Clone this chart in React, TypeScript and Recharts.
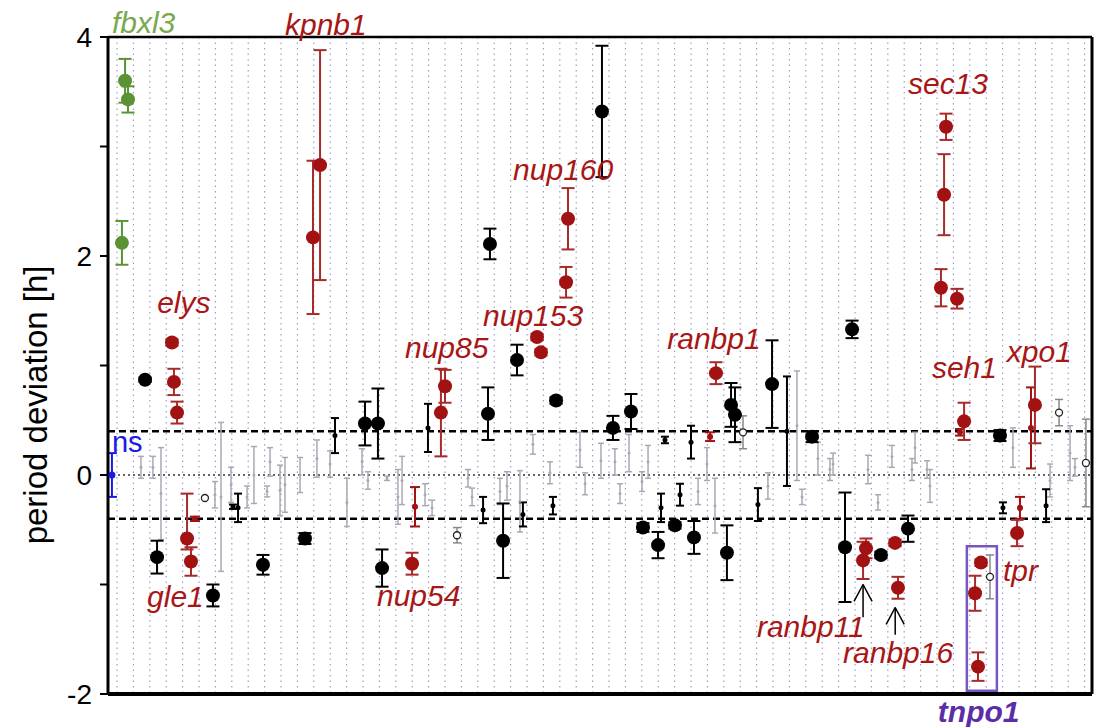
import React from 'react';
import {
  ScatterChart,
  Scatter,
  XAxis,
  YAxis,
  CartesianGrid,
  ErrorBar,
  ReferenceLine,
  ReferenceArea,
  ReferenceDot
} from 'recharts';

type Pt = { x: number; y: number; err: number | [number, number] };

// axis ticks
const yTicks = [-2, -1, 0, 1, 2, 3, 4];
const gridTicks = Array.from({ length: 60 }, (_, i) => i + 0.55);

// fbxl3 controls
const greenPts: Pt[] = [
  { x: 1.04, y: 3.6, err: 0.2 },
  { x: 1.22, y: 3.43, err: 0.12 },
  { x: 0.85, y: 2.12, err: 0.2 }
];

// significant hits (named genes)
const redBig: Pt[] = [
  { x: 3.9, y: 1.21, err: 0.03 },
  { x: 4.02, y: 0.85, err: 0.12 },
  { x: 4.21, y: 0.57, err: 0.1 },
  { x: 4.82, y: -0.58, err: [0.1, 0.41] },
  { x: 5.06, y: -0.79, err: 0.13 },
  { x: 12.5, y: 2.17, err: 0.7 },
  { x: 12.93, y: 2.83, err: 1.05 },
  { x: 18.54, y: -0.81, err: 0.1 },
  { x: 20.3, y: 0.57, err: 0.4 },
  { x: 20.55, y: 0.81, err: 0.15 },
  { x: 26.16, y: 1.26, err: 0.03 },
  { x: 26.4, y: 1.12, err: 0.03 },
  { x: 27.93, y: 1.76, err: 0.14 },
  { x: 28.05, y: 2.34, err: 0.28 },
  { x: 37.07, y: 0.93, err: 0.1 },
  { x: 46.04, y: -0.78, err: 0.17 },
  { x: 46.22, y: -0.67, err: 0.09 },
  { x: 47.99, y: -0.62, err: 0.03 },
  { x: 48.17, y: -1.03, err: 0.1 },
  { x: 50.79, y: 1.71, err: 0.17 },
  { x: 50.98, y: 2.56, err: 0.37 },
  { x: 51.1, y: 3.18, err: 0.12 },
  { x: 51.77, y: 1.61, err: 0.09 },
  { x: 52.2, y: 0.49, err: 0.17 },
  { x: 52.87, y: -1.08, err: 0.16 },
  { x: 53.05, y: -1.75, err: 0.13 },
  { x: 53.23, y: -0.8, err: 0.03 },
  { x: 55.43, y: -0.53, err: 0.12 },
  { x: 56.52, y: 0.64, err: 0.35 }
];

const redSmall: Pt[] = [
  { x: 5.3, y: -0.4, err: 0.02 },
  { x: 18.72, y: -0.29, err: 0.18 },
  { x: 36.71, y: 0.35, err: 0.04 },
  { x: 51.95, y: 0.39, err: 0.03 },
  { x: 55.61, y: -0.3, err: 0.1 },
  { x: 56.28, y: 0.43, err: 0.37 }
];

const blackBig: Pt[] = [
  { x: 2.26, y: 0.87, err: 0.02 },
  { x: 2.99, y: -0.75, err: 0.15 },
  { x: 6.4, y: -1.1, err: 0.1 },
  { x: 9.45, y: -0.82, err: 0.09 },
  { x: 12.01, y: -0.58, err: 0.05 },
  { x: 15.67, y: 0.47, err: 0.2 },
  { x: 16.46, y: 0.47, err: 0.32 },
  { x: 16.71, y: -0.85, err: 0.17 },
  { x: 23.17, y: 0.56, err: 0.24 },
  { x: 23.29, y: 2.11, err: 0.14 },
  { x: 24.09, y: -0.6, err: 0.34 },
  { x: 24.94, y: 1.05, err: 0.14 },
  { x: 27.32, y: 0.68, err: 0.03 },
  { x: 30.12, y: 3.32, err: 0.6 },
  { x: 30.79, y: 0.43, err: 0.11 },
  { x: 31.89, y: 0.58, err: 0.16 },
  { x: 32.62, y: -0.48, err: 0.04 },
  { x: 33.54, y: -0.64, err: 0.12 },
  { x: 34.57, y: -0.46, err: 0.03 },
  { x: 35.73, y: -0.57, err: 0.15 },
  { x: 37.74, y: -0.71, err: 0.25 },
  { x: 37.99, y: 0.64, err: 0.2 },
  { x: 38.23, y: 0.55, err: 0.25 },
  { x: 40.49, y: 0.83, err: 0.4 },
  { x: 42.93, y: 0.35, err: 0.05 },
  { x: 44.94, y: -0.66, err: 0.5 },
  { x: 45.37, y: 1.33, err: 0.08 },
  { x: 47.13, y: -0.73, err: 0.03 },
  { x: 48.78, y: -0.49, err: 0.12 },
  { x: 54.39, y: 0.36, err: 0.05 }
];

const blackSmall: Pt[] = [
  { x: 7.62, y: -0.29, err: 0.02 },
  { x: 7.93, y: -0.3, err: 0.13 },
  { x: 13.84, y: 0.36, err: 0.16 },
  { x: 19.51, y: 0.43, err: 0.22 },
  { x: 22.87, y: -0.32, err: 0.12 },
  { x: 25.3, y: -0.36, err: 0.11 },
  { x: 27.13, y: -0.28, err: 0.08 },
  { x: 33.72, y: -0.3, err: 0.13 },
  { x: 33.96, y: 0.32, err: 0.03 },
  { x: 34.88, y: -0.18, err: 0.1 },
  { x: 35.55, y: 0.3, err: 0.15 },
  { x: 39.63, y: -0.27, err: 0.15 },
  { x: 41.4, y: 0.4, err: 0.5 },
  { x: 54.57, y: -0.3, err: 0.05 },
  { x: 57.2, y: -0.28, err: 0.15 }
];

const blackOpen: Pt[] = [
  { x: 5.91, y: -0.21, err: 0 },
  { x: 21.28, y: -0.55, err: 0.07 },
  { x: 38.72, y: 0.39, err: 0.15 },
  { x: 53.78, y: -0.93, err: 0.2 },
  { x: 57.99, y: 0.57, err: 0.12 },
  { x: 59.63, y: 0.11, err: 0.4 }
];

// not significant knockdowns
const grayPts: Pt[] = [
  { x: 2.01, y: 0.07, err: 0.1 },
  { x: 2.74, y: 0.07, err: 0.1 },
  { x: 3.23, y: -0.17, err: 0.42 },
  { x: 6.52, y: -0.18, err: 0.12 },
  { x: 6.89, y: -0.2, err: 0.68 },
  { x: 7.5, y: -0.09, err: 0.16 },
  { x: 8.48, y: -0.2, err: 0.1 },
  { x: 8.9, y: 0, err: 0.26 },
  { x: 9.7, y: -0.15, err: 0.05 },
  { x: 9.88, y: 0.12, err: 0.13 },
  { x: 10.49, y: -0.14, err: 0.23 },
  { x: 10.79, y: -0.09, err: 0.25 },
  { x: 11.71, y: 0, err: 0.16 },
  { x: 12.74, y: 0.15, err: 0.17 },
  { x: 13.54, y: 0.1, err: 0.12 },
  { x: 14.57, y: -0.25, err: 0.22 },
  { x: 15.49, y: 0.12, err: 0.12 },
  { x: 15.85, y: -0.05, err: 0.08 },
  { x: 17.01, y: -0.03, err: 0.02 },
  { x: 17.68, y: -0.2, err: 0.25 },
  { x: 17.93, y: -0.05, err: 0.22 },
  { x: 19.33, y: -0.18, err: 0.1 },
  { x: 19.76, y: -0.3, err: 0.07 },
  { x: 21.95, y: -0.03, err: 0.08 },
  { x: 22.2, y: -0.2, err: 0.08 },
  { x: 23.9, y: -0.15, err: 0.12 },
  { x: 24.33, y: -0.1, err: 0.13 },
  { x: 25.12, y: -0.24, err: 0.28 },
  { x: 25.91, y: 0.28, err: 0.09 },
  { x: 26.95, y: 0.02, err: 0.1 },
  { x: 28.78, y: 0.23, err: 0.16 },
  { x: 29.09, y: -0.08, err: 0.1 },
  { x: 30.06, y: 0.13, err: 0.16 },
  { x: 30.91, y: 0.12, err: 0.12 },
  { x: 31.22, y: -0.17, err: 0.09 },
  { x: 31.77, y: 0.2, err: 0.17 },
  { x: 32.56, y: -0.06, err: 0.09 },
  { x: 32.93, y: 0.12, err: 0.15 },
  { x: 35.98, y: -0.15, err: 0.12 },
  { x: 36.52, y: 0.1, err: 0.15 },
  { x: 37.01, y: -0.28, err: 0.25 },
  { x: 40.24, y: -0.1, err: 0.12 },
  { x: 42.01, y: 0.45, err: 0.5 },
  { x: 42.32, y: -0.2, err: 0.07 },
  { x: 43.29, y: 0.15, err: 0.15 },
  { x: 44.02, y: 0.05, err: 0.1 },
  { x: 44.21, y: 0.1, err: 0.1 },
  { x: 46.34, y: 0.05, err: 0.13 },
  { x: 46.95, y: -0.25, err: 0.07 },
  { x: 47.8, y: 0.17, err: 0.1 },
  { x: 49.02, y: 0.05, err: 0.1 },
  { x: 49.21, y: 0.25, err: 0.14 },
  { x: 49.94, y: 0.05, err: 0.08 },
  { x: 50.12, y: -0.1, err: 0.15 },
  { x: 55.18, y: 0.25, err: 0.18 },
  { x: 57.44, y: -0.05, err: 0.15 },
  { x: 58.66, y: 0.2, err: 0.25 },
  { x: 58.96, y: 0.07, err: 0.08 }
];

const bluePts: Pt[] = [{ x: 0.24, y: 0, err: 0.2 }];

const geneLabels = [
  { text: 'fbxl3', x: 0.24, y: 4.04, tone: 'green' },
  { text: 'kpnb1', x: 10.79, y: 4.02, tone: 'red' },
  { text: 'elys', x: 3.0, y: 1.48, tone: 'red' },
  { text: 'gle1', x: 2.38, y: -1.21, tone: 'red' },
  { text: 'nup85', x: 18.11, y: 1.07, tone: 'red' },
  { text: 'nup153', x: 22.87, y: 1.36, tone: 'red' },
  { text: 'nup160', x: 24.7, y: 2.69, tone: 'red' },
  { text: 'nup54', x: 16.4, y: -1.2, tone: 'red' },
  { text: 'ranbp1', x: 34.1, y: 1.15, tone: 'red' },
  { text: 'sec13', x: 48.78, y: 3.48, tone: 'red' },
  { text: 'seh1', x: 50.24, y: 0.89, tone: 'red' },
  { text: 'xpo1', x: 54.8, y: 1.03, tone: 'red' },
  { text: 'ranbp11', x: 39.57, y: -1.48, tone: 'red' },
  { text: 'ranbp16', x: 44.82, y: -1.72, tone: 'red' },
  { text: 'tpr', x: 54.57, y: -0.97, tone: 'red' },
  { text: 'tnpo1', x: 50.6, y: -2.26, tone: 'purple' },
  { text: 'ns', x: 0.24, y: 0.21, tone: 'blue' }
];

// arrows pointing at ranbp11 / ranbp16
const arrows = [
  { x: 46.04, tip: -1.0, tail: -1.3 },
  { x: 48.0, tip: -1.21, tail: -1.46 }
];

const RED = '#a31212';
const GREEN = '#5b9233';
const BLACK = '#000';
const GRAY = '#a9a9b3';
const BLUE = '#1a1ae6';
const PURPLE = '#5b2ea6';
const FONT = '"Liberation Sans", Arial, sans-serif';

const toneColor: Record<string, string> = {
  red: '#a81616',
  green: '#7aa84c',
  blue: BLUE,
  purple: PURPLE
};

const dot = (r: number, fill: string, stroke = 'none', sw = 0) => (p: any) => (
  <circle cx={p.cx} cy={p.cy} r={r} fill={fill} stroke={stroke} strokeWidth={sw} />
);

// vertical grid at the column ticks
const gridX = (props: any) => {
  const off = props && props.offset ? props.offset : { left: 108, width: 984 };
  return gridTicks.map((t) => off.left + (t / 60) * off.width);
};

export default function App() {
  return (
    <div style={{ position: 'absolute', left: 0, top: 0, background: '#fff' }}>
      <ScatterChart width={1095} height={727} margin={{ top: 37, right: 3, bottom: 33, left: 0 }}>
        <CartesianGrid
          horizontal={false}
          vertical
          verticalCoordinatesGenerator={gridX}
          stroke="#9e9ec9"
          strokeDasharray="1.5 4"
          strokeWidth={1.2}
        />
        <XAxis
          type="number"
          dataKey="x"
          domain={[0, 60]}
          ticks={gridTicks}
          tick={() => <g />}
          tickLine={false}
          height={0}
          axisLine={false}
          allowDataOverflow
        />
        <YAxis
          type="number"
          dataKey="y"
          domain={[-2, 4]}
          ticks={yTicks}
          interval={0}
          width={108}
          tickSize={8}
          tickMargin={8}
          tickFormatter={(v: number) => (v % 2 === 0 ? String(v) : '')}
          axisLine={{ stroke: '#000', strokeWidth: 3 }}
          tickLine={{ stroke: '#000', strokeWidth: 2 }}
          tick={{ fill: '#000', fontSize: 28, fontFamily: FONT }}
          allowDataOverflow
        />

        {/* frame */}
        <ReferenceLine y={4} stroke="#000" strokeWidth={2.5} />
        <ReferenceLine x={60} stroke="#000" strokeWidth={3} />
        <ReferenceLine y={-2} stroke="#000" strokeWidth={4} />

        {/* significance thresholds */}
        <ReferenceLine y={0} stroke="#333" strokeWidth={1.5} strokeDasharray="2 3" />
        <ReferenceLine y={0.4} stroke="#000" strokeWidth={2.5} strokeDasharray="7 4" />
        <ReferenceLine y={-0.4} stroke="#000" strokeWidth={2.5} strokeDasharray="7 4" />

        <Scatter data={grayPts} shape={dot(1.5, GRAY)} isAnimationActive={false}>
          <ErrorBar dataKey="err" direction="y" width={3} stroke={GRAY} strokeWidth={1.5} isAnimationActive={false} />
        </Scatter>
        <Scatter data={blackSmall} shape={dot(2.5, BLACK)} isAnimationActive={false}>
          <ErrorBar dataKey="err" direction="y" width={4} stroke={BLACK} strokeWidth={2} isAnimationActive={false} />
        </Scatter>
        <Scatter data={blackOpen} shape={dot(3.5, '#fff', '#222', 1.3)} isAnimationActive={false}>
          <ErrorBar dataKey="err" direction="y" width={4} stroke="#888" strokeWidth={1.5} isAnimationActive={false} />
        </Scatter>
        <Scatter data={blackBig} shape={dot(7, BLACK)} isAnimationActive={false}>
          <ErrorBar dataKey="err" direction="y" width={6.5} stroke={BLACK} strokeWidth={2} isAnimationActive={false} />
        </Scatter>
        <Scatter data={redSmall} shape={dot(3, RED)} isAnimationActive={false}>
          <ErrorBar dataKey="err" direction="y" width={5} stroke={RED} strokeWidth={2} isAnimationActive={false} />
        </Scatter>
        <Scatter data={redBig} shape={dot(7, RED)} isAnimationActive={false}>
          <ErrorBar dataKey="err" direction="y" width={6.5} stroke="#a82a2a" strokeWidth={2} isAnimationActive={false} />
        </Scatter>
        <Scatter data={greenPts} shape={dot(7, GREEN)} isAnimationActive={false}>
          <ErrorBar dataKey="err" direction="y" width={6.5} stroke={GREEN} strokeWidth={2} isAnimationActive={false} />
        </Scatter>
        <Scatter data={bluePts} shape={dot(3.5, BLUE)} isAnimationActive={false}>
          <ErrorBar dataKey="err" direction="y" width={5} stroke={BLUE} strokeWidth={2} isAnimationActive={false} />
        </Scatter>

        {/* tnpo1 box */}
        <ReferenceArea x1={52.37} x2={54.2} y1={-1.97} y2={-0.65} fill="none" stroke="#7656c0" strokeWidth={2.5} />

        {arrows.map((a, i) => (
          <ReferenceLine key={`s${i}`} segment={[{ x: a.x, y: a.tail }, { x: a.x, y: a.tip }]} stroke="#000" strokeWidth={1.5} />
        ))}
        {arrows.map((a, i) => (
          <ReferenceLine key={`l${i}`} segment={[{ x: a.x - 0.55, y: a.tip - 0.155 }, { x: a.x, y: a.tip }]} stroke="#000" strokeWidth={1.5} />
        ))}
        {arrows.map((a, i) => (
          <ReferenceLine key={`r${i}`} segment={[{ x: a.x + 0.55, y: a.tip - 0.155 }, { x: a.x, y: a.tip }]} stroke="#000" strokeWidth={1.5} />
        ))}

        {geneLabels.map((g) => (
          <ReferenceDot
            key={g.text}
            x={g.x}
            y={g.y}
            r={0}
            ifOverflow="visible"
            shape={(p: any) => (
              <text
                x={p.cx}
                y={p.cy}
                fill={toneColor[g.tone]}
                fontSize={g.tone === 'blue' ? 29 : 30}
                fontFamily={FONT}
                fontStyle={g.tone === 'blue' ? 'normal' : 'italic'}
                fontWeight={g.tone === 'purple' ? 'bold' : 'normal'}
              >
                {g.text}
              </text>
            )}
          />
        ))}

        {/* axis title */}
        <ReferenceDot
          x={-4.39}
          y={0.64}
          r={0}
          ifOverflow="visible"
          shape={(p: any) => (
            <text
              x={p.cx}
              y={p.cy}
              transform={`rotate(-90 ${p.cx} ${p.cy})`}
              textAnchor="middle"
              dominantBaseline="central"
              fontSize={33}
              fontFamily={FONT}
              fill="#000"
            >
              period deviation [h]
            </text>
          )}
        />
      </ScatterChart>
    </div>
  );
}
